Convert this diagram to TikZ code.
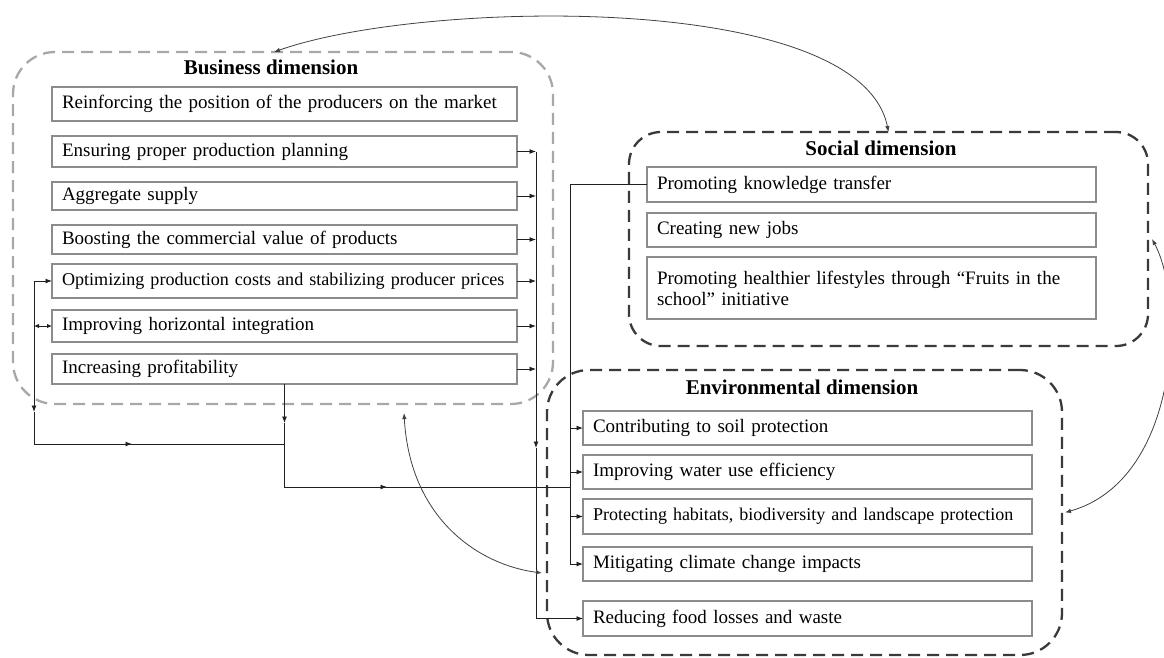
\documentclass[tikz,border=0pt]{standalone}
\usepackage{fontspec}
\setmainfont{Liberation Serif}
\usetikzlibrary{arrows.meta}
\definecolor{boxgray}{HTML}{8C8C8C}
\definecolor{bizgray}{HTML}{A8A8A8}
\definecolor{frameDark}{HTML}{3A3A3A}
\definecolor{lineblk}{HTML}{202020}
\tikzset{
 bodyfont/.style={font=\fontsize{19}{21}\selectfont},
 itembox/.style={draw=boxgray, line width=1.4pt, inner xsep=10pt, inner ysep=0pt, align=left, outer sep=0pt, bodyfont, text=black},
 bizbox/.style={itembox, text width=445pt, minimum width=465pt},
 sidebox/.style={itembox, text width=429pt, minimum width=449pt},
 dimframe/.style={line width=2.3pt, dash pattern=on 12pt off 7pt, outer sep=0pt, inner sep=0pt},
 bizframe/.style={dimframe, draw=bizgray},
 darkframe/.style={dimframe, draw=frameDark},
 ttl/.style={font=\fontsize{21}{24}\selectfont\bfseries, inner sep=0pt},
 conn/.style={draw=lineblk, line width=0.9pt},
 arr/.style={-{Latex[length=6.5pt,width=5pt]}},
 linkcurve/.style={draw=lineblk!85, line width=0.8pt, {Latex[length=6pt,width=4.5pt]}-{Latex[length=6pt,width=4.5pt]}},
}
\begin{document}
\begin{tikzpicture}[x=1pt,y=-1pt]
\path[use as bounding box, fill=white] (0,0) rectangle (1164,657);

% frames
\node[bizframe, rounded corners=42pt, minimum width=540pt, minimum height=352pt] (biz) at (283,228) {};
\node[darkframe, rounded corners=32pt, minimum width=519pt, minimum height=214pt] (soc) at (888.5,239) {};
\node[darkframe, rounded corners=42pt, minimum width=515pt, minimum height=285pt] (env) at (804.5,512.5) {};

% titles
\node[ttl] (bizt) at (271,67) {Business dimension};
\node[ttl] (soct) at (881,148) {Social dimension};
\node[ttl] (envt) at (802,387) {Environmental dimension};

% business boxes
\node[bizbox, minimum height=34pt] (b1) at (284.5,104) {Reinforcing the position of the producers on the market};
\node[bizbox, minimum height=31pt] (b2) at (284.5,151.5) {Ensuring proper production planning};
\node[bizbox, minimum height=28pt] (b3) at (284.5,196) {Aggregate supply};
\node[bizbox, minimum height=29pt] (b4) at (284.5,239.5) {Boosting the commercial value of products};
\node[bizbox, minimum height=34pt, font=\fontsize{18.1}{21}\selectfont] (b5) at (284.5,281) {\mbox{Optimizing production costs and stabilizing producer prices}};
\node[bizbox, minimum height=32pt] (b6) at (284.5,326) {Improving horizontal integration};
\node[bizbox, minimum height=30pt] (b7) at (284.5,369) {Increasing profitability};

% social boxes
\node[sidebox, minimum height=35pt] (s1) at (871.5,184.5) {Promoting knowledge transfer};
\node[sidebox, minimum height=34pt] (s2) at (871.5,230) {Creating new jobs};
\node[sidebox, minimum height=62pt] (s3) at (871.5,288) {Promoting healthier lifestyles through “Fruits in the\\school” initiative};

% environmental boxes
\node[sidebox, minimum height=34pt] (e1) at (807.5,428) {Contributing to soil protection};
\node[sidebox, minimum height=34pt] (e2) at (807.5,472) {Improving water use efficiency};
\node[sidebox, minimum height=35pt, font=\fontsize{18}{21}\selectfont] (e3) at (807.5,516.5) {\mbox{Protecting habitats, biodiversity and landscape protection}};
\node[sidebox, minimum height=34pt] (e4) at (807.5,564) {Mitigating climate change impacts};
\node[sidebox, minimum height=35pt] (e5) at (807.5,618.5) {Reducing food losses and waste};

% helper coordinates
\coordinate (lx) at (34,0);
\coordinate (bus) at (536,0);
\coordinate (bus2) at (570,0);
\coordinate (row1) at (0,444);
\coordinate (row2) at (0,487);

% business -> bus
\foreach \b in {b2,b3,b4,b5,b6,b7}
  \draw[conn,arr] (\b.east) -- (\b.east -| bus);
\draw[conn,arr] (bus |- b2.east) -- (536,448);
\draw[conn,arr] (536,448) -- (bus |- e5.west) -- (e5.west);

% social -> environmental
\draw[conn] (s1.west) -- (s1.west -| bus2) -- (bus2 |- e4.west);
\foreach \e in {e1,e2,e3,e4}
  \draw[conn,arr] (\e.west -| bus2) -- (\e.west);

% left loop
\draw[conn,arr] (lx |- b5.west) -- (b5.west);
\draw[conn,arr] (lx |- b5.west) -- (34,412);
\draw[conn] (34,412) -- (lx |- row1) -- (b7.south |- row1);
\draw[conn,arr] (lx |- row1) -- (132,444);
\draw[conn,{Latex[length=5pt,width=4.5pt]}-{Latex[length=5pt,width=4.5pt]}] (lx |- b6.west) -- (b6.west);

% profitability line
\draw[conn,arr] (b7.south) -- ([yshift=-39pt]b7.south);
\draw[conn] ([yshift=-39pt]b7.south) -- (b7.south |- row2) -- (bus2 |- row2);
\draw[conn,arr] (b7.south |- row2) -- (387,487);

% curved links
\draw[linkcurve] ([xshift=-9pt]biz.north) .. controls (420,0) and (860,-10) .. (soc.north);
\draw[linkcurve] ([xshift=121pt,yshift=-9pt]biz.south) .. controls (410,520) and (480,565) .. ([xshift=-5pt,yshift=-60.5pt]env.west);
\draw[linkcurve] ([xshift=4pt]soc.east) .. controls (1185,300) and (1180,480) .. ([xshift=3pt]env.east);
\end{tikzpicture}
\end{document}
